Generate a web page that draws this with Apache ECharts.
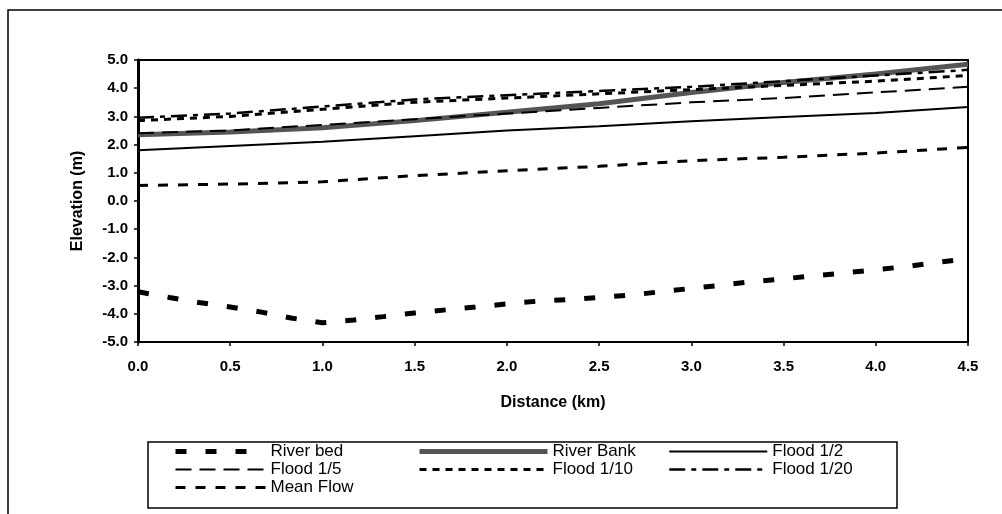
<!DOCTYPE html>
<html>
<head>
<meta charset="utf-8">
<script src="https://cdn.jsdelivr.net/npm/echarts@6/dist/echarts.min.js"></script>
<style>
html,body{margin:0;padding:0;background:#fff;}
#chart{width:1002px;height:514px;}
</style>
</head>
<body>
<div id="chart"></div>
<script>
// Distances (km)
var bedDistance = [0, 0.17, 0.33, 0.5, 0.67, 0.83, 1.0, 1.17, 1.33, 1.5, 1.67, 1.83, 2.0, 2.17, 2.33, 2.5, 2.67, 2.83, 3.0, 3.17, 3.33, 3.5, 3.67, 3.83, 4.0, 4.17, 4.33, 4.5];
var riverBed = [-3.22, -3.42, -3.6, -3.76, -3.94, -4.15, -4.32, -4.22, -4.1, -3.97, -3.86, -3.76, -3.65, -3.55, -3.5, -3.42, -3.34, -3.22, -3.1, -2.98, -2.86, -2.76, -2.65, -2.55, -2.44, -2.32, -2.18, -2.05];

var distance = [0, 0.5, 1.0, 1.5, 2.0, 2.5, 3.0, 3.5, 4.0, 4.5];
var riverBank = [2.35, 2.45, 2.6, 2.85, 3.15, 3.45, 3.85, 4.2, 4.5, 4.85];
var flood2 = [1.8, 1.95, 2.1, 2.3, 2.5, 2.65, 2.83, 2.98, 3.12, 3.33];
var flood5 = [2.4, 2.5, 2.7, 2.9, 3.1, 3.3, 3.5, 3.65, 3.85, 4.05];
var flood10 = [2.85, 3.0, 3.25, 3.5, 3.65, 3.8, 3.95, 4.1, 4.25, 4.45];
var flood20 = [2.95, 3.1, 3.35, 3.6, 3.75, 3.9, 4.05, 4.25, 4.45, 4.65];
var meanFlow = [0.55, 0.6, 0.68, 0.9, 1.07, 1.23, 1.43, 1.55, 1.7, 1.9];

var seriesNames = ['River bed', 'River Bank', 'Flood 1/2', 'Flood 1/5', 'Flood 1/10', 'Flood 1/20', 'Mean Flow'];

function pairs(xs, ys) { return xs.map(function (x, i) { return [x, ys[i]]; }); }

var FONT = 'Liberation Sans, Arial, sans-serif';

var styles = {
  'River bed': { width: 5, type: [11, 19], color: '#000' },
  'River Bank': { width: 5, type: 'solid', color: '#555' },
  'Flood 1/2': { width: 2, type: 'solid', color: '#000' },
  'Flood 1/5': { width: 2, type: [16, 8], color: '#000' },
  'Flood 1/10': { width: 3, type: [7, 6], color: '#000' },
  'Flood 1/20': { width: 2.5, type: [16, 6, 5, 6], color: '#000' },
  'Mean Flow': { width: 3, type: [10, 10], color: '#000' }
};

function lineSeries(name, xs, ys) {
  var s = styles[name];
  return {
    name: name, type: 'line', data: pairs(xs, ys), symbol: 'none', showSymbol: false,
    smooth: false, animation: false,
    lineStyle: { color: s.color, width: s.width, type: s.type },
    itemStyle: { color: s.color }
  };
}

var chart = echarts.init(document.getElementById('chart'), null, { renderer: 'canvas' });
var legendText = { fontFamily: FONT, fontSize: 17, color: '#000' };
function legendCol(names, left, w) {
  return {
    data: names.map(function (n) {
      var s = styles[n];
      return { name: n, lineStyle: { width: s.width, type: s.type, color: s.color } };
    }),
    orient: 'vertical', left: left, top: 443, padding: 0,
    itemWidth: w, itemHeight: 14, itemGap: 1, itemStyle: { opacity: 0 },
    textStyle: legendText, selectedMode: false
  };
}

chart.setOption({
  animation: false,
  backgroundColor: '#fff',
  graphic: [
    { type: 'rect', shape: { x: 8, y: 10, width: 1000, height: 520 }, style: { fill: 'none', stroke: '#000', lineWidth: 1.5 }, silent: true },
    { type: 'rect', shape: { x: 148, y: 442, width: 749, height: 66 }, style: { fill: 'none', stroke: '#000', lineWidth: 1.5 }, silent: true }
  ],
  legend: [
    legendCol(['River bed', 'Flood 1/5', 'Mean Flow'], 173, 90),
    legendCol(['River Bank', 'Flood 1/10'], 417, 128),
    legendCol(['Flood 1/2', 'Flood 1/20'], 668, 98)
  ],
  grid: { left: 138, right: 34, top: 60, bottom: 172, show: true, borderColor: '#000', borderWidth: 2, backgroundColor: 'transparent' },
  xAxis: {
    type: 'value', min: 0, max: 4.5, interval: 0.5,
    name: 'Distance (km)', nameLocation: 'middle', nameGap: 53,
    nameTextStyle: { fontFamily: FONT, fontWeight: 'bold', fontSize: 16, color: '#000' },
    axisLine: { show: true, onZero: false, lineStyle: { color: '#000', width: 2 } },
    axisTick: { show: true, length: 4, lineStyle: { color: '#000', width: 1.5 } },
    axisLabel: { margin: 17, fontFamily: FONT, fontWeight: 'bold', fontSize: 15, color: '#000', formatter: function (v) { return v.toFixed(1); } },
    splitLine: { show: false }
  },
  yAxis: {
    type: 'value', min: -5, max: 5, interval: 1,
    name: 'Elevation (m)', nameLocation: 'middle', nameGap: 52, nameRotate: 90,
    nameTextStyle: { fontFamily: FONT, fontWeight: 'bold', fontSize: 16, color: '#000' },
    axisLine: { show: true, onZero: false, lineStyle: { color: '#000', width: 3 } },
    axisTick: { show: true, length: 4, lineStyle: { color: '#000', width: 1.5 } },
    axisLabel: { margin: 10, fontFamily: FONT, fontWeight: 'bold', fontSize: 15, color: '#000', formatter: function (v) { return v.toFixed(1); } },
    splitLine: { show: false }
  },
  series: [
    lineSeries('River bed', bedDistance, riverBed),
    lineSeries('River Bank', distance, riverBank),
    lineSeries('Flood 1/2', distance, flood2),
    lineSeries('Flood 1/5', distance, flood5),
    lineSeries('Flood 1/10', distance, flood10),
    lineSeries('Flood 1/20', distance, flood20),
    lineSeries('Mean Flow', distance, meanFlow)
  ]
});
</script>
</body>
</html>
